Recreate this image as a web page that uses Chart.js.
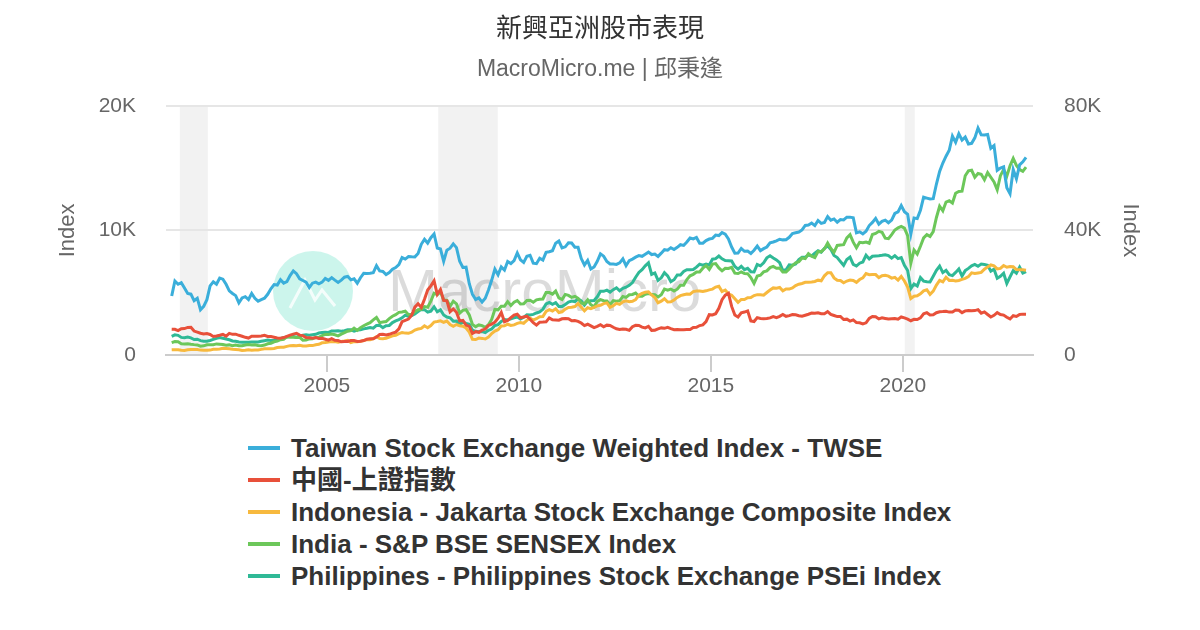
<!DOCTYPE html>
<html>
<head>
<meta charset="utf-8">
<script src="https://cdn.jsdelivr.net/npm/chart.js@4"></script>
<style>
  html, body { margin: 0; padding: 0; background: #fff; }
  #wrap { position: relative; width: 1200px; height: 630px; }
  #box { position: absolute; left: 0; top: 0; width: 1200px; height: 420px; }
  #legend { position: absolute; left: 248px; top: 432px; font-family: "Liberation Sans", Arial, "Noto Sans CJK TC", sans-serif; font-weight: bold; font-size: 26px; color: #333; }
  #legend div { height: 32px; line-height: 32px; white-space: nowrap; }
  #legend span { display: inline-block; width: 32px; height: 4px; vertical-align: middle; margin-right: 11px; position: relative; top: -2px; }
</style>
</head>
<body>
<div id="wrap">
  <div id="box"><canvas id="chart"></canvas></div>
  <div id="legend"></div>
</div>
<script>
// monthly values, Dec 2000 .. Mar 2023
const startYear = 2000;
const startMonth = 12;

const seriesNames = [
  "Taiwan Stock Exchange Weighted Index - TWSE",
  "中國-上證指數",
  "Indonesia - Jakarta Stock Exchange Composite Index",
  "India - S&P BSE SENSEX Index",
  "Philippines - Philippines Stock Exchange PSEi Index"
];
const seriesColors = ["#3aaeda", "#e8503a", "#f7b93e", "#6cc75a", "#2fb996"];

const twse = [4739,
  5936,5674,5797,5381,4935,4883,4352,4557,3636,3903,4441,5551,
  5872,5681,6167,6085,5675,5153,4941,4765,4191,4579,4680,4452,
  4941,4556,4321,4448,4555,4872,5318,5650,5611,6045,5771,5890,
  6375,6750,6522,6117,5977,5840,5420,5765,5845,5706,5844,6140,
  5994,6207,6006,5819,6012,6242,6312,6033,6119,5764,6203,6548,
  6532,6561,6613,7171,6747,6704,6455,6611,6883,7021,7255,7823,
  7700,7901,7884,7875,8145,8883,9287,8982,9411,9711,8586,8506,
  7521,8413,8572,8920,8619,7524,7024,7046,5719,4871,4460,4591,
  4248,4557,5210,5993,6890,6432,7078,6826,7509,7340,7582,8188,
  7640,7436,7920,8004,7374,7329,7760,7616,8238,8287,8372,8973,
  9145,8600,8683,9008,8988,8653,8644,7741,7225,7588,6904,7072,
  7517,8121,7933,7501,7301,7296,7270,7397,7715,7167,7580,7700,
  7850,7977,7919,8093,8254,8062,8108,7914,8173,8450,8406,8612,
  8462,8639,8849,8792,9075,9393,9316,9436,8966,8975,9187,9307,
  9361,9622,9586,9820,9701,9323,8665,8175,8181,8554,8320,8338,
  8145,8411,8745,8377,8536,8667,9007,9069,9166,9290,9240,9254,
  9448,9750,9812,9872,10041,10395,10427,10586,10384,10794,10560,10643,
  11104,10815,10919,10658,10875,10837,11057,11064,11006,9802,9888,9727,
  9932,10389,10641,10967,10498,10731,10824,10618,10829,11358,11489,11997,
  11495,11292,9708,10992,10943,11621,12665,12592,12516,12546,13722,14733,
  15410,15953,16431,17567,17068,17755,17247,17490,16935,16987,17428,18219,
  17674,17652,17693,16592,16807,14826,15000,15095,13425,12950,14880,14138,
  15265,15504,15868];

const shanghai = [2073,
  2066,1960,2112,2119,2214,2218,1921,1834,1747,1689,1720,1646,
  1491,1525,1580,1654,1515,1732,1657,1669,1581,1507,1419,1358,
  1500,1512,1511,1521,1577,1487,1476,1421,1367,1348,1397,1497,
  1590,1675,1742,1595,1555,1400,1387,1342,1396,1321,1341,1267,
  1191,1306,1181,1159,1060,1081,1083,1162,1155,1092,1099,1161,
  1258,1299,1298,1440,1641,1672,1612,1658,1753,1838,2099,2675,
  2786,2881,3184,3841,4109,3821,4471,5218,5552,5955,4871,5262,
  4383,4349,3473,3693,3433,2736,2776,2397,2293,1729,1871,1821,
  1991,2082,2373,2477,2633,2959,3412,2667,2779,2996,3195,3277,
  2989,3051,3110,2871,2592,2398,2638,2639,2656,2979,2820,2808,
  2790,2905,2928,2911,2743,2762,2701,2567,2359,2468,2333,2199,
  2292,2428,2262,2396,2373,2225,2103,2047,2086,2069,1980,2269,
  2385,2365,2236,2178,2300,1979,1994,2098,2175,2141,2220,2116,
  2033,2056,2033,2026,2039,2048,2202,2217,2364,2420,2683,3235,
  3210,3310,3748,4442,4800,4950,3900,3206,3053,3383,3445,3539,
  2738,2688,3004,2938,2917,2930,2979,3085,3005,3100,3250,3104,
  3159,3242,3223,3155,3117,3192,3273,3361,3349,3393,3317,3307,
  3481,3259,3169,3082,3095,2847,2876,2725,2821,2603,2588,2494,
  2585,2941,3091,3078,2899,2979,2933,2886,2905,2929,2872,3050,
  2977,2880,2750,2860,2852,2985,3310,3396,3218,3225,3392,3473,
  3483,3509,3442,3447,3615,3591,3397,3544,3568,3547,3564,3640,
  3361,3462,3253,3047,3186,3399,3253,3202,3024,2893,3151,3089,
  3256,3280,3273];

const jakarta = [416,
  426,427,382,359,413,438,444,436,392,379,380,392,
  452,454,481,534,530,505,463,443,419,369,390,425,
  389,399,398,451,494,505,507,529,597,626,617,691,
  752,761,735,783,732,732,756,754,820,861,977,1000,
  1045,1073,1080,1029,1089,1122,1182,994,1079,1066,1097,1163,
  1232,1231,1323,1465,1330,1310,1351,1431,1534,1582,1719,1806,
  1757,1741,1831,1999,2084,2139,2349,2194,2359,2644,2688,2746,
  2627,2722,2447,2305,2444,2350,2304,2166,1833,1257,1242,1355,
  1333,1285,1434,1723,1917,2027,2323,2342,2468,2368,2416,2534,
  2611,2549,2777,2971,2797,2914,3069,3082,3501,3635,3531,3704,
  3410,3471,3679,3820,3837,3889,4131,3842,3549,3791,3715,3822,
  3942,3985,4122,4181,3832,3956,4142,4060,4263,4350,4276,4317,
  4454,4796,4941,5034,5069,4819,4611,4196,4316,4511,4256,4274,
  4419,4620,4768,4840,4894,4879,5089,5137,5138,5090,5150,5227,
  5289,5450,5519,5086,5216,4911,4803,4510,4224,4455,4446,4593,
  4615,4771,4845,4839,4797,5017,5216,5386,5365,5423,5149,5297,
  5294,5387,5568,5685,5738,5830,5841,5864,5901,6006,5952,6356,
  6606,6597,6189,5995,5984,5799,5936,6018,5977,5832,6056,6194,
  6533,6443,6469,6455,6209,6359,6390,6328,6169,6228,6012,6300,
  5940,5453,4538,4716,4754,4905,5150,5238,4870,5128,5612,5979,
  5862,6242,5986,5996,5947,5985,6070,6150,6287,6592,6534,6581,
  6631,6888,7071,7229,7149,6912,6951,7179,7041,7099,7081,6851,
  6839,6843,6806];

// right axis
const sensex = [3972,
  4326,4247,3604,3519,3631,3457,3329,3244,2811,2940,3287,3262,
  3311,3562,3469,3338,3125,3245,2988,3181,2991,2950,3229,3377,
  3250,3283,3049,2960,3181,3607,3792,4245,4453,4907,5044,5839,
  5696,5667,5591,5655,4760,4795,5170,5192,5584,5672,6234,6603,
  6556,6714,6493,6154,6715,7194,7636,7805,8634,7892,8789,9398,
  9920,10370,11280,12043,10399,10609,10744,11699,12454,12962,13696,13787,
  14091,12938,13072,13872,14544,14651,15551,15319,17291,19838,19363,20287,
  17649,17579,15644,17287,16416,13462,14356,14565,12860,9788,9093,9647,
  9424,8892,9709,11403,14625,14494,15670,15667,17127,15896,16926,17465,
  16358,16430,17528,17559,16945,17701,17868,17971,20069,20032,19521,20509,
  18328,17823,19445,19136,18503,18846,18197,16677,16454,17705,16123,15455,
  17194,17753,17404,17319,16219,17430,17236,17430,18763,18505,19340,19427,
  19895,18862,18836,19504,19760,19396,19346,18620,19380,21165,20792,21171,
  20514,21120,22386,22418,24217,25414,25895,26638,26631,27866,28694,27499,
  29183,29362,27957,27011,27828,27781,28115,26283,26155,26657,26146,26118,
  24871,23002,25342,25607,26668,26999,28052,28452,27866,27930,26653,26626,
  27656,28743,29621,29918,31146,30922,32515,31730,31284,33213,33149,34057,
  35965,34184,32969,35160,35322,35423,37607,38645,36227,34442,36194,36068,
  36257,35867,38673,39032,39714,39395,37481,37333,38667,40129,40794,41254,
  40723,38297,29468,33718,32424,34916,37607,38628,38068,39614,44150,47751,
  46286,49100,49509,48782,51937,52483,52587,57552,59126,59307,57065,58254,
  58014,56247,58569,57061,55566,53019,57570,59537,57427,60747,63100,60841,
  59550,58962,60300];

const psei = [1495,
  1618,1579,1412,1381,1436,1373,1244,1270,1153,1110,1108,1168,
  1251,1335,1408,1342,1285,1221,1127,1100,1047,1023,1016,1018,
  1044,1038,1040,1100,1150,1200,1161,1190,1290,1319,1382,1442,
  1504,1485,1425,1518,1582,1615,1595,1625,1659,1766,1809,1822,
  1812,1927,1929,1940,1913,1953,2017,2017,1914,2005,2030,2096,
  2150,2213,2150,2375,2390,2200,2350,2370,2600,2730,2840,2982,
  3200,3100,3170,3300,3480,3660,3640,3440,3522,3870,3470,3621,
  3211,3044,2985,2717,2729,2459,2627,2536,2470,1987,1901,1872,
  1876,1800,1986,2083,2361,2438,2699,2849,2807,2901,2981,3053,
  2889,3024,3225,3214,3261,3372,3462,3667,4101,4212,4070,4201,
  3891,3900,4055,4254,4336,4291,4503,4351,4001,4320,4353,4372,
  4670,5108,5108,5201,5044,5246,5397,5151,5346,5437,5590,5813,
  6242,6623,6847,7154,7403,6465,6581,5985,6191,6609,6354,5890,
  6041,6425,6428,6708,6839,6844,6864,7051,7283,7215,7293,7231,
  7689,7731,7940,7715,7580,7565,7550,7099,6894,7116,6849,6952,
  6688,6671,7262,7159,7402,7796,7963,7787,7630,7405,6781,6841,
  7230,7212,7312,7661,7837,7843,8018,7959,8171,8365,8254,8558,
  8764,8475,7980,7819,7498,7193,7672,7856,7277,7140,7367,7466,
  8007,7705,7921,7953,7970,7999,8045,7980,7779,7977,7739,7815,
  7200,6787,5321,5700,5539,6207,5928,5880,5864,6324,6791,7140,
  6613,6795,6443,6371,6628,6901,6338,6770,6952,7154,7265,7123,
  7294,7262,7203,6731,6890,6155,6315,6566,5741,6264,6781,6566,
  7051,6580,6700];

const seriesValues = [twse, shanghai, jakarta, sensex, psei];
const seriesAxis = ["y", "y", "y", "y1", "y"];

const leftTicks = [0, 10000, 20000];
const rightTicks = [0, 40000, 80000];
const yearTicks = [2005, 2010, 2015, 2020];

// recession periods (decimal years)
const recessionStart = [2001.17, 2007.9, 2020.05];
const recessionEnd = [2001.9, 2009.45, 2020.31];

function monthToYear(i) {
  return startYear + (startMonth - 1 + i + 0.5) / 12;
}

const datasets = seriesValues.map((vals, k) => ({
  label: seriesNames[k],
  data: vals.map((v, i) => ({ x: monthToYear(i), y: v })),
  yAxisID: seriesAxis[k],
  borderColor: seriesColors[k],
  backgroundColor: seriesColors[k],
  borderWidth: 3,
  pointRadius: 0,
  tension: 0,
}));

const fmtK = v => (v === 0 ? "0" : v / 1000 + "K");

const bands = {
  id: "bands",
  beforeDraw(chart) {
    const { ctx, chartArea, scales } = chart;
    ctx.save();
    ctx.fillStyle = "#f2f2f2";
    for (let i = 0; i < recessionStart.length; i++) {
      const x0 = scales.x.getPixelForValue(recessionStart[i]);
      const x1 = scales.x.getPixelForValue(recessionEnd[i]);
      ctx.fillRect(x0, chartArea.top, x1 - x0, chartArea.bottom - chartArea.top);
    }
    ctx.restore();
  },
  beforeDatasetsDraw(chart) {
    // watermark
    const { ctx } = chart;
    ctx.save();
    ctx.fillStyle = "rgba(110, 225, 200, 0.35)";
    ctx.beginPath();
    ctx.arc(313, 291, 40, 0, Math.PI * 2);
    ctx.fill();
    ctx.strokeStyle = "rgba(255,255,255,0.8)";
    ctx.lineWidth = 3;
    ctx.beginPath();
    ctx.moveTo(290, 308); ctx.lineTo(305, 280); ctx.lineTo(315, 300);
    ctx.lineTo(322, 290); ctx.lineTo(335, 306);
    ctx.stroke();
    ctx.font = "60px 'Liberation Sans', Arial, sans-serif";
    ctx.fillStyle = "rgba(0,0,0,0.14)";
    ctx.textBaseline = "alphabetic";
    ctx.fillText("MacroMicro", 388, 311);
    ctx.restore();
  }
};

const axisFont = { family: "'Liberation Sans', Arial, sans-serif", size: 21 };

const chart = new Chart(document.getElementById("chart"), {
  type: "line",
  data: { datasets },
  plugins: [bands],
  options: {
    responsive: true,
    maintainAspectRatio: false,
    animation: false,
    layout: { padding: 0 },
    plugins: {
      legend: { display: false },
      tooltip: { enabled: false },
      title: {
        display: true,
        text: "新興亞洲股市表現",
        color: "#333",
        font: { family: "'Liberation Sans', 'Noto Sans CJK TC', sans-serif", size: 26, weight: "normal", lineHeight: 1.2 },
        padding: { top: 14, bottom: 10 },
      },
      subtitle: {
        display: true,
        text: "MacroMicro.me | 邱秉逢",
        color: "#666",
        font: { family: "'Liberation Sans', 'Noto Sans CJK TC', sans-serif", size: 23, lineHeight: 1.2 },
        padding: { top: 1, bottom: 22 },
      },
    },
    scales: {
      x: {
        type: "linear",
        min: 2000.81,
        max: 2023.39,
        afterFit(s) { s.height = 65; },
        afterBuildTicks(s) { s.ticks = yearTicks.map(v => ({ value: v })); },
        ticks: { color: "#666", font: axisFont, padding: 2, callback: v => String(v), maxRotation: 0 },
        grid: { drawOnChartArea: false, drawTicks: true, tickLength: 17, color: "#ccc", lineWidth: 2 },
        border: { color: "#ccc", width: 2 },
      },
      y: {
        position: "left",
        min: 0,
        max: 20000,
        afterFit(s) { s.width = 166; },
        afterBuildTicks(s) { s.ticks = leftTicks.map(v => ({ value: v })); },
        ticks: { color: "#666", font: axisFont, padding: 30, callback: fmtK },
        grid: { color: "#e6e6e6", lineWidth: 2, drawTicks: false },
        border: { display: false },
        title: { display: true, text: "Index", color: "#666", font: { family: "'Liberation Sans', Arial, sans-serif", size: 22 }, padding: 55 },
      },
      y1: {
        position: "right",
        min: 0,
        max: 80000,
        afterFit(s) { s.width = 167; },
        afterBuildTicks(s) { s.ticks = rightTicks.map(v => ({ value: v })); },
        ticks: { color: "#666", font: axisFont, padding: 31, callback: fmtK },
        grid: { drawOnChartArea: false, drawTicks: false },
        border: { display: false },
        title: { display: true, text: "Index", color: "#666", font: { family: "'Liberation Sans', Arial, sans-serif", size: 22 }, padding: 57 },
      },
    },
  },
});

// html legend
const legend = document.getElementById("legend");
chart.data.datasets.forEach(ds => {
  const row = document.createElement("div");
  const sw = document.createElement("span");
  sw.style.background = ds.borderColor;
  row.appendChild(sw);
  row.appendChild(document.createTextNode(ds.label));
  legend.appendChild(row);
});
</script>
</body>
</html>
